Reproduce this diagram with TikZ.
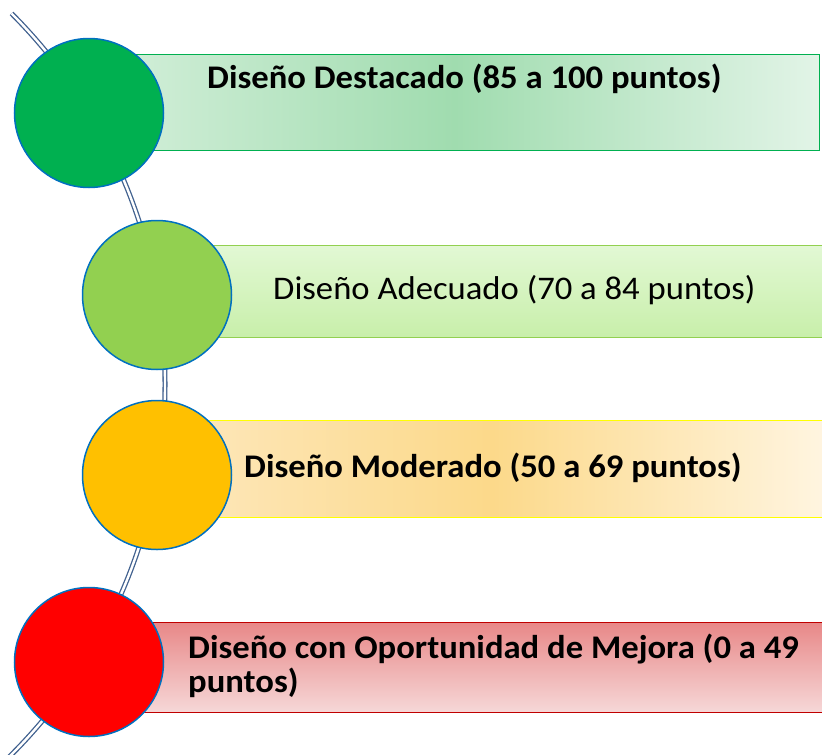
\documentclass[tikz,border=0pt]{standalone}
\usepackage{fontspec}
\setmainfont{Carlito}[FakeStretch=1.05]

\definecolor{spinec}{HTML}{41618F}
\definecolor{ringc}{HTML}{0070C0}
\definecolor{discA}{HTML}{00B050}
\definecolor{discB}{HTML}{92D050}
\definecolor{discC}{HTML}{FFC000}
\definecolor{discD}{HTML}{FF0000}
\definecolor{lineA}{HTML}{00B050}
\definecolor{lineB}{HTML}{92D050}
\definecolor{lineC}{HTML}{FFFF00}
\definecolor{lineD}{HTML}{C00000}

\begin{document}
\begin{tikzpicture}[x=1pt,y=-1pt,
        disc/.style={circle, draw=ringc, line width=1.5pt, minimum size=149pt, inner sep=0pt},
        band/.style={rectangle, anchor=north west, line width=1.2pt, inner sep=0pt},
        bandtext/.style={anchor=base west, inner sep=0pt, align=left,
            font=\fontsize{33}{34}\selectfont}]
    \useasboundingbox (0,0) rectangle (822,755);
    \clip (0,0) rectangle (822,755);

    % 背骨の曲線
    \draw[spinec, line width=1.3pt, double=white, double distance=2.4pt]
        (-359,384) ++(-45:524) arc[start angle=-45, end angle=47, radius=524];

    % 帯
    \node[band, draw=lineA, left color={rgb,255:red,214;green,240;blue,220},
          right color={rgb,255:red,226;green,244;blue,231},
          middle color={rgb,255:red,160;green,220;blue,175},
          minimum width=730pt, minimum height=96pt] (bandA) at (89,54) {};
    \node[band, draw=lineB, top color={rgb,255:red,226;green,248;blue,212},
          bottom color={rgb,255:red,200;green,239;blue,170},
          minimum width=670pt, minimum height=92pt] (bandB) at (157,245) {};
    \node[band, draw=lineC, left color={rgb,255:red,253;green,232;blue,190},
          right color={rgb,255:red,255;green,245;blue,225},
          middle color={rgb,255:red,252;green,217;blue,138},
          minimum width=670pt, minimum height=97pt] (bandC) at (157,420) {};
    \node[band, draw=lineD, top color={rgb,255:red,232;green,136;blue,136},
          bottom color={rgb,255:red,246;green,216;blue,216},
          minimum width=740pt, minimum height=90pt] (bandD) at (89,622) {};

    % 円
    \foreach \n/\x/\y/\col in {A/89/113/discA, B/157/295/discB, C/157/475/discC, D/89/662/discD} {
        \node[disc, fill=\col] (disc\n) at (\x,\y) {};
    }

    % 文字
    \node[bandtext] (textA) at (207,88) {\bfseries Diseño Destacado (85 a 100 puntos)};
    \node[bandtext] (textB) at (273,299) {Diseño Adecuado (70 a 84 puntos)};
    \node[bandtext] (textC) at (244,477) {\bfseries Diseño Moderado (50 a 69 puntos)};
    \node[bandtext] (textD) at (188,692) {\bfseries Diseño con Oportunidad de Mejora (0 a 49\\
        \bfseries puntos)};
\end{tikzpicture}
\end{document}
